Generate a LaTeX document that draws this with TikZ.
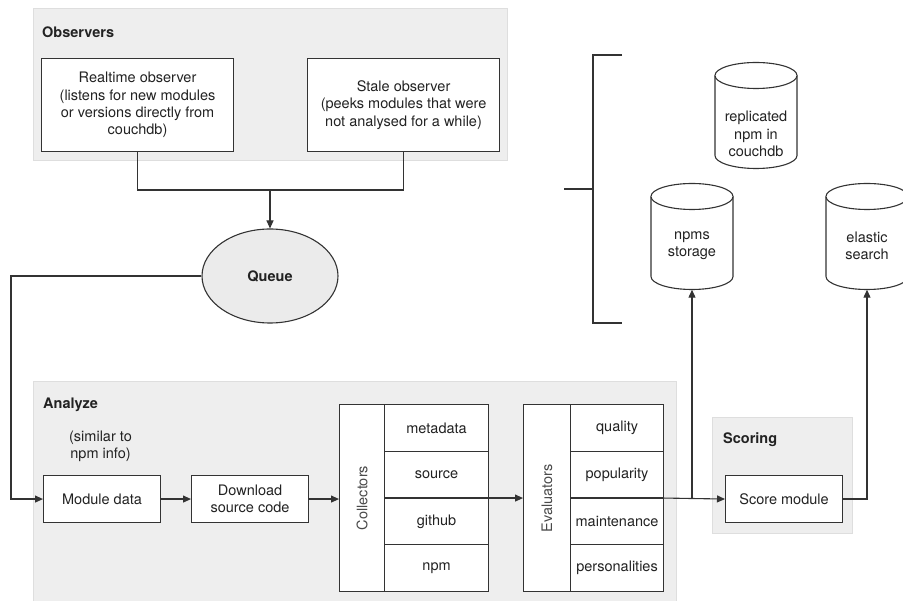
\documentclass[tikz,border=0pt]{standalone}
\usepackage{fontspec}
\setmainfont{TeX Gyre Heros}
\usetikzlibrary{arrows.meta,calc,shapes.geometric}
\definecolor{ln}{HTML}{333333}
\definecolor{panelfill}{HTML}{EEEEEE}
\definecolor{panelborder}{HTML}{DEDEDE}
\definecolor{txt}{HTML}{222222}
\definecolor{qfill}{HTML}{EBEBEB}
\definecolor{vlab}{HTML}{4A4A4A}
\newcommand\fs{\fontsize{14.5}{17.3}\selectfont}
% in the picture's frame (y grows downward): cap centres at y=-40 (top) and y=+40 (bottom)
\newcommand\drawcylat[1]{%
  \begin{scope}[shift={(#1.center)}]
    \draw[cylline] (-41,-40) -- (-41,40) arc[start angle=180,end angle=0,x radius=41,y radius=13]
      -- (41,-40) arc[start angle=0,end angle=-180,x radius=41,y radius=13] -- cycle;
    \draw[cylline] (-41,-40) arc[start angle=180,end angle=0,x radius=41,y radius=13];
  \end{scope}}
\tikzset{
  every node/.style={font=\fs, text=txt},
  ttl/.style={font=\fs\bfseries, anchor=west, inner sep=0pt},
  panel/.style={draw=panelborder, fill=panelfill, line width=0.8pt, anchor=north west, inner sep=0pt},
  box/.style={draw=ln, fill=white, line width=1.1pt, anchor=north west, inner sep=0pt, align=center},
  cellbox/.style={box, minimum height=46.75pt},
  vlabel/.style={anchor=center, rotate=90, text=vlab, inner sep=0pt},
  cylnode/.style={minimum width=82pt, minimum height=106pt, inner sep=0pt},
  cylline/.style={draw=ln, fill=white, line width=1.1pt},
  conn/.style={draw=ln, line width=1.1pt},
  arr/.style={conn, -{Triangle[length=8pt,width=7pt]}},
  qstyle/.style={ellipse, draw=ln, fill=qfill, line width=1.1pt, minimum width=136pt, minimum height=94pt, inner sep=0pt, font=\fs\bfseries},
}
\begin{document}
\begin{tikzpicture}[x=1pt,y=-1pt]
\useasboundingbox (0,0) rectangle (903,601);
\fill[white] (0,0) rectangle (903,601);

% ---------- Observers panel
\node[panel, minimum width=474pt, minimum height=152pt] (obs) at (33,8) {};
\node[ttl] (obsl) at (42,32) {Observers};
\node[box, minimum width=192pt, minimum height=93pt] (rt) at (41,58)
  {Realtime observer\\(listens for new modules\\or versions directly from\\couchdb)};
\node[box, minimum width=192pt, minimum height=93pt] (st) at (307,58)
  {Stale observer\\(peeks modules that were\\not analysed for a while)};

% ---------- Queue
\node[qstyle] (queue) at (270,276) {Queue};
\coordinate (jq) at (270,190);
\coordinate (ql) at (11,0);

% ---------- Bracket
\draw[conn] (622,55) -- (593,55) -- (593,323) -- (622,323);
\draw[conn] (564,189) -- (593,189);

% ---------- Cylinders
\node[cylnode] (rep) at (756,115.5) {};
\node[cylnode] (nps) at (692,236.5) {};
\node[cylnode] (els) at (867,236.5) {};
\drawcylat{rep}
\drawcylat{nps}
\drawcylat{els}
\node[align=center] (reptxt) at (756,134) {replicated\\npm in\\couchdb};
\node[align=center] (npstxt) at (692,245.5) {npms\\storage};
\node[align=center] (elstxt) at (867,245.5) {elastic\\search};

% ---------- Analyze panel
\node[panel, minimum width=643pt, minimum height=220pt] (ana) at (33,381) {};
\node[ttl] (anal) at (43,405) {Analyze};
\node[align=center] (sim) at (100.5,446) {(similar to\\npm info)};
\node[box, minimum width=117pt, minimum height=47pt] (md) at (43,475) {Module data};
\node[box, minimum width=117pt, minimum height=47pt] (dl) at (191,475) {Download\\source code};

% Collectors table
\node[box, minimum width=149pt, minimum height=187pt] (coll) at (339,404) {};
\node[box, minimum width=45pt, minimum height=187pt] (collcol) at (339,404) {};
\node[vlabel] (colllab) at (collcol.center) {Collectors};
\node[cellbox, minimum width=104pt] (c1) at (384,404) {metadata};
\node[cellbox, minimum width=104pt] (c2) at (384,450.75) {source};
\node[cellbox, minimum width=104pt] (c3) at (384,497.5) {github};
\node[cellbox, minimum width=104pt] (c4) at (384,544.25) {npm};

% Evaluators table
\node[box, minimum width=140pt, minimum height=187pt] (evl) at (523,404) {};
\node[box, minimum width=47pt, minimum height=187pt] (evlcol) at (523,404) {};
\node[vlabel] (evllab) at (evlcol.center) {Evaluators};
\node[cellbox, minimum width=93pt] (e1) at (570,404) {quality};
\node[cellbox, minimum width=93pt] (e2) at (570,450.75) {popularity};
\node[cellbox, minimum width=93pt] (e3) at (570,497.5) {maintenance};
\node[cellbox, minimum width=93pt] (e4) at (570,544.25) {personalities};

% ---------- Scoring panel
\node[panel, minimum width=140pt, minimum height=116pt] (scp) at (712,417) {};
\node[ttl] (scl) at (723,440) {Scoring};
\node[box, minimum width=117pt, minimum height=47pt] (sm) at (725,475) {Score module};

% ---------- Connectors
\draw[conn] (rt.south) |- (jq) -| (st.south);
\draw[arr] (jq) -- (queue.north);
\draw[arr] (queue.west) -| (ql |- md.west) -- (md.west);
\draw[arr] (md.east) -- (dl.west);
\draw[arr] (dl.east) -- (dl.east -| coll.west);
\draw[arr] (coll.east) -- (evl.west);
\draw[arr] (evl.east) -- (sm.west);
\draw[arr] (nps.south |- evl.east) -- (nps.south);
\draw[arr] (sm.east) -| (els.south);
\end{tikzpicture}
\end{document}
